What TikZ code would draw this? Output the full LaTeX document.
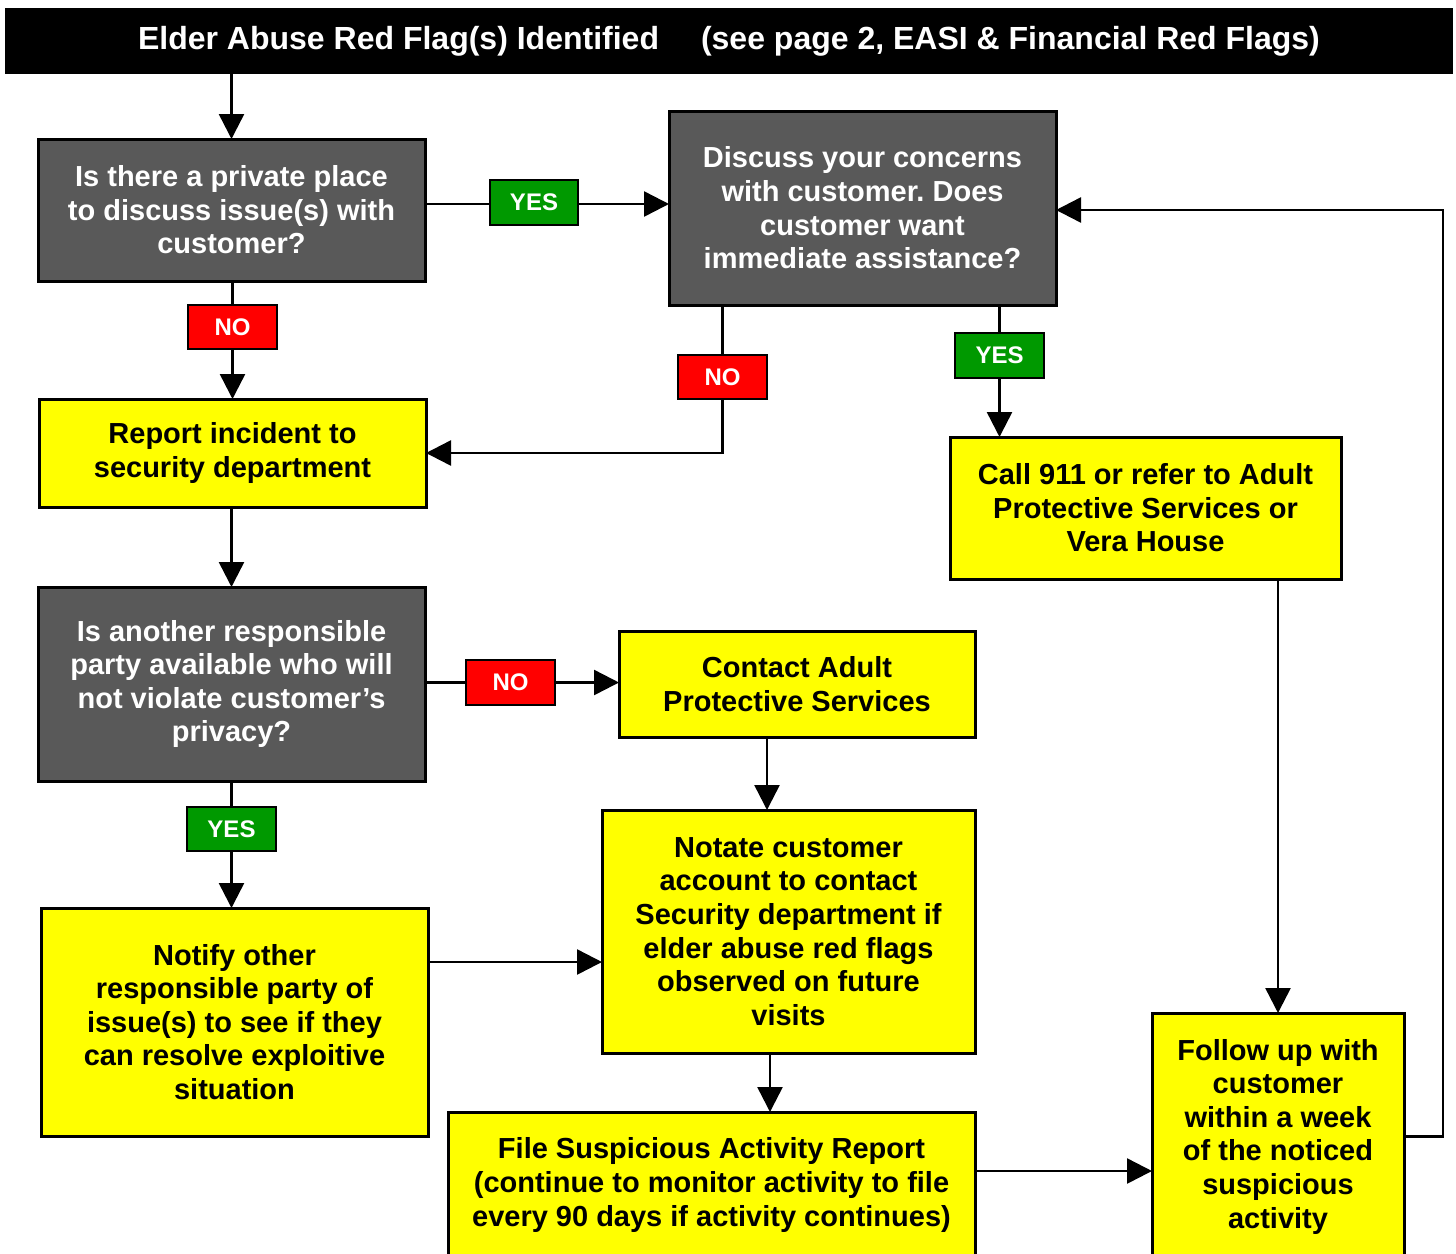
\documentclass[tikz,border=0pt]{standalone}
\usepackage{fontspec}
\setmainfont{Liberation Sans}
\frenchspacing
\usetikzlibrary{arrows.meta}
\definecolor{qgray}{HTML}{595959}
\definecolor{ygreen}{HTML}{009900}
\definecolor{nred}{HTML}{FF0000}
\definecolor{byellow}{HTML}{FFFF00}
\newcommand\mkbox[7]{\node[#6, minimum width={(#4-#2)*0.5pt}, minimum height={(#5-#3)*0.5pt}] (#1) at ({(#2+#4)/2},{(#3+#5)/2}) {#7};}
\tikzset{
  base/.style={draw=black, inner sep=0pt, outer sep=0pt, align=center, font=\bfseries\fontsize{14.5}{16.8}\selectfont},
  qbox/.style={base, fill=qgray, text=white, line width=1.5pt},
  ybox/.style={base, fill=byellow, text=black, line width=1.5pt},
  lab/.style={draw=black, line width=1pt, inner sep=0pt, outer sep=0pt, text=white, font=\bfseries\fontsize{12}{14}\selectfont},
  yesl/.style={lab, fill=ygreen},
  nol/.style={lab, fill=nred},
  ln/.style={line width=1.25pt, draw=black},
  arr/.style={ln, -{Triangle[length=12.5pt,width=12.5pt]}}
}
\begin{document}
\begin{tikzpicture}[x=0.5pt,y=-0.5pt]
\useasboundingbox (0,0) rectangle (1456,1253);
\clip (0,0) rectangle (1456,1253);
% header
\node[fill=black, text=white, inner sep=0pt, outer sep=0pt, minimum width=724pt, minimum height=33pt, font=\bfseries\fontsize{16}{19}\selectfont] (hdr) at (729,41) {Elder Abuse Red Flag(s) Identified\hspace{21pt}(see page 2, EASI \& Financial Red Flags)};
% boxes
\mkbox{q1}{38}{139}{425}{281}{qbox}{Is there a private place\\to discuss issue(s) with\\customer?}
\mkbox{q2}{669}{111}{1056}{305}{qbox}{Discuss your concerns\\with customer. Does\\customer want\\immediate assistance?}
\mkbox{rep}{39}{399}{426}{507}{ybox}{Report incident to\\security department}
\mkbox{q3}{38}{587}{425}{781}{qbox}{Is another responsible\\party available who will\\not violate customer’s\\privacy?}
\mkbox{aps}{619}{631}{975}{737}{ybox}{Contact Adult\\Protective Services}
\mkbox{call}{950}{437}{1341}{579}{ybox}{Call 911 or refer to Adult\\Protective Services or\\Vera House}
\mkbox{notate}{602}{810}{975}{1053}{ybox}{Notate customer\\account to contact\\Security department if\\elder abuse red flags\\observed on future\\visits}
\mkbox{notify}{41}{908}{428}{1136}{ybox}{Notify other\\responsible party of\\issue(s) to see if they\\can resolve exploitive\\situation}
\mkbox{sar}{448}{1112}{975}{1258}{ybox}{File Suspicious Activity Report\\(continue to monitor activity to file\\every 90 days if activity continues)}
\mkbox{follow}{1152}{1013}{1404}{1260}{ybox}{Follow up with\\customer\\within a week\\of the noticed\\suspicious\\activity}
% labels
\mkbox{yes1}{490}{180}{578}{225}{yesl}{YES}
\mkbox{no1}{188}{305}{277}{349}{nol}{NO}
\mkbox{no2}{678}{355}{767}{399}{nol}{NO}
\mkbox{yes2}{955}{333}{1044}{378}{yesl}{YES}
\mkbox{no3}{466}{660}{555}{705}{nol}{NO}
\mkbox{yes3}{187}{807}{276}{851}{yesl}{YES}
% helper coordinates
\coordinate (c0) at (0,204);
\coordinate (c1) at (767,0);
\coordinate (c2) at (0,962);
\coordinate (c3) at (770,0);
\coordinate (c4) at (0,1171);
\coordinate (rr) at (1443,210);
% connectors
\draw[arr] (hdr.south -| q1) -- (q1.north);
\draw[ln] (q1.east |- c0) -- (yes1.west |- c0);
\draw[arr] (yes1.east |- c0) -- (q2.west |- c0);
\draw[ln] (q1.south -| no1) -- (no1.north);
\draw[arr] (no1.south) -- (rep.north -| no1);
\draw[ln] (q2.south -| no2) -- (no2.north);
\draw[arr] (no2.south) |- (rep.east);
\draw[ln] (q2.south -| yes2) -- (yes2.north);
\draw[arr] (yes2.south) -- (call.north -| yes2);
\draw[arr] (rep.south -| q3) -- (q3.north);
\draw[ln] (q3.east |- no3) -- (no3.west);
\draw[arr] (no3.east) -- (aps.west |- no3);
\draw[ln] (q3.south -| yes3) -- (yes3.north);
\draw[arr] (yes3.south) -- (notify.north -| yes3);
\draw[arr] (aps.south -| c1) -- (notate.north -| c1);
\draw[arr] (notify.east |- c2) -- (notate.west |- c2);
\draw[arr] (notate.south -| c3) -- (sar.north -| c3);
\draw[arr] (sar.east |- c4) -- (follow.west |- c4);
\draw[arr] (call.south -| follow) -- (follow.north);
\draw[arr] (follow.east) -| (rr) -- (q2.east |- rr);
\end{tikzpicture}
\end{document}
